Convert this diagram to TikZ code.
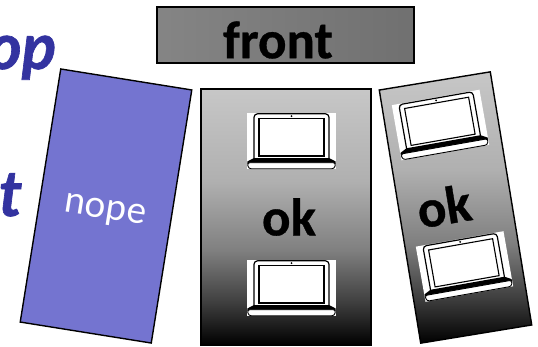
\documentclass[tikz,border=0pt]{standalone}
\usepackage{fontspec}
\setmainfont{Carlito}[BoldFeatures={FakeBold=0.6}]
\newfontfamily\lat{Lato}[BoldItalicFeatures={FakeBold=1}]
\definecolor{nopefill}{HTML}{7474D0}
\definecolor{titleblue}{HTML}{3333A0}
\pgfdeclareverticalshading{panelgrad}{100bp}{color(0bp)=(black);color(25bp)=(black);color(33.5bp)=(black!75);color(43.5bp)=(black!50);color(57bp)=(black!31);color(75bp)=(black!22);color(100bp)=(black!22)}
\tikzset{
  panel/.style={draw=black,line width=1.4pt,inner sep=0pt,minimum width=#1},
  panel/.default=100pt,
  bigword/.style={font=\fontsize{53}{53}\selectfont\bfseries,text=black,inner sep=0pt},
  titleword/.style={font=\lat\fontsize{64}{64}\selectfont\bfseries\itshape,text=titleblue,inner sep=0pt,anchor=base east},
  laptop/.pic={
    \fill[white] (-44.5,-28) rectangle (44.5,28);
    \draw[black,line width=1.2pt,rounded corners=3.5pt,fill=white] (-37.5,18) -- (-37.5,-27.2) -- (37.5,-27.2) -- (37.5,18);
    \draw[black,line width=1.1pt] (-32.5,-22.5) rectangle (32.5,15);
    \fill[black] (0,-25) circle (1);
    \fill[black] (-37.5,17) -- (37.5,17) -- (44.2,20.5) -- (44.2,23) -- (-44.2,23) -- (-44.2,20.5) -- cycle;
    \draw[black,line width=0.9pt,rounded corners=2.5pt,fill=white] (-44.2,21.7) -- (44.2,21.7) -- (43,27.7) -- (-43,27.7) -- cycle;
  }
}
\begin{document}
\begin{tikzpicture}[x=1pt,y=-1pt]
\useasboundingbox (0,0) rectangle (538,346);
\begin{scope}
\clip (0,0) rectangle (538,346);
\node[titleword] (titleop) at (56.5,69) {op};
\node[titleword] (titlet) at (22.5,216) {t};
\end{scope}
\node[panel=257pt,minimum height=56pt,left color=black!48,right color=black!56,middle color=black!52] (frontbox) at (285.5,35) {};
\node[bigword] (frontlabel) at (278,40) {front};
\node[panel=132.7pt,minimum height=256.3pt,fill=nopefill,rotate=-9.1] (nopebox) at (106,206) {};
\node[text=white,font=\lat\fontsize{37}{37}\selectfont,inner sep=0pt,rotate=-9.1] (nopelabel) at (105,212) {nope};
\node[panel=170pt,minimum height=256pt,shading=panelgrad] (midbox) at (286,217) {};
\node[panel=112.5pt,minimum height=256.5pt,shading=panelgrad,rotate=9.3] (rightbox) at (455.5,207.5) {};
\pic at (291.5,141) {laptop};
\pic at (291.5,288) {laptop};
\pic[rotate=10] at (440.5,125) {laptop};
\pic[rotate=10] at (464.5,266.5) {laptop};
\node[bigword] (midok) at (289,217) {ok};
\node[bigword,rotate=9.3] (rightok) at (444,206) {ok};
\end{tikzpicture}
\end{document}
